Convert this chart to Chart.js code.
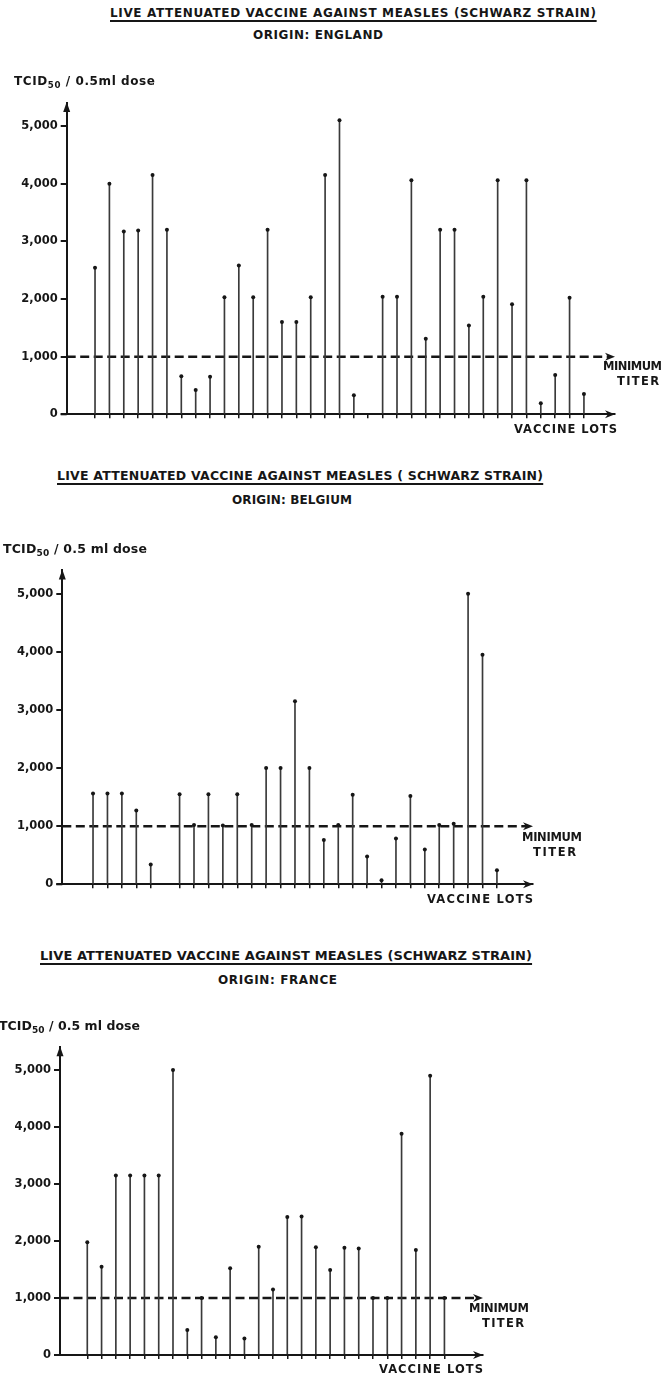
<!DOCTYPE html>
<html>
<head>
<meta charset="utf-8">
<script src="https://cdn.jsdelivr.net/npm/chart.js@4.4.1/dist/chart.umd.min.js"></script>
<style>
  body { margin: 0; background: #fff; width: 665px; height: 1377px; position: relative; overflow: hidden;
         font-family: 'DejaVu Sans', sans-serif; color: #161616; }
  canvas { position: absolute; left: 0; }
  .t { position: absolute; white-space: nowrap; font-weight: bold; line-height: 1; }
  .t sub { font-size: 0.72em; vertical-align: -0.3em; line-height: 0; }
  .u { text-decoration: underline; text-decoration-thickness: 1.5px; text-underline-offset: 2.5px; }
</style>
</head>
<body>
<script>
// 刻度
const yTicks = [0, 1000, 2000, 3000, 4000, 5000];
const yTickLabels = ['0', '1,000', '2,000', '3,000', '4,000', '5,000'];
const MIN_TITER = 1000;

// England: 35 lots (lot 20 not readable)
const englandLots = [1, 2, 3, 4, 5, 6, 7, 8, 9, 10, 11, 12, 13, 14, 15, 16, 17, 18, 19, 20,
  21, 22, 23, 24, 25, 26, 27, 28, 29, 30, 31, 32, 33, 34, 35];
const englandTiters = [2540, 4000, 3170, 3190, 4150, 3200, 660, 420, 650, 2030, 2580, 2030, 3200, 1600, 1600,
  2030, 4150, 5100, 330, null, 2040, 2040, 4060, 1310, 3200, 3200, 1540, 2040, 4060, 1910, 4060, 190, 680, 2020, 350];

// Belgium: gap after lot 5
const belgiumLots = [1, 2, 3, 4, 5, 7, 8, 9, 10, 11, 12, 13, 14, 15, 16, 17, 18, 19, 20,
  21, 22, 23, 24, 25, 26, 27, 28, 29];
const belgiumTiters = [1560, 1560, 1560, 1270, 340, 1550, 1020, 1550, 1010, 1550, 1020, 2000, 2000, 3150,
  2000, 760, 1020, 1540, 480, 70, 790, 1520, 600, 1020, 1040, 5000, 3950, 240];

// France: 26 lots
const franceLots = [1, 2, 3, 4, 5, 6, 7, 8, 9, 10, 11, 12, 13, 14, 15, 16, 17, 18, 19, 20,
  21, 22, 23, 24, 25, 26];
const franceTiters = [1980, 1550, 3150, 3150, 3150, 3150, 5000, 440, 1000, 310, 1520, 290, 1900, 1150, 2420,
  2430, 1890, 1490, 1880, 1870, 1000, 1000, 3880, 1840, 4900, 1000];

const TITLE = 'LIVE ATTENUATED VACCINE AGAINST MEASLES (SCHWARZ STRAIN)';
const TITLE_B = 'LIVE ATTENUATED VACCINE AGAINST MEASLES ( SCHWARZ STRAIN)';
const Y_LABEL = 'TCID<sub>50</sub> / 0.5ml dose';
const Y_LABEL_SP = 'TCID<sub>50</sub> / 0.5 ml dose';

const INK = '#161616';
const Y_MAX = 5400;

// 版面 (positions only)
const panels = [
  {
    lots: englandLots, titers: englandTiters, xMin: -0.97, xMax: 37.16,
    box: { left: 66.7, right: 615, top: 103, bottom: 414.3 },
    texts: [
      [TITLE, 110, 486, 13, 12, true],
      ['ORIGIN: ENGLAND', 253, 130, 35, 12],
      [Y_LABEL, 14, 141, 81, 12],
      ['MINIMUM', 603, 59, 367, 11.5],
      ['TITER', 617, 42, 382, 11.5],
      ['VACCINE LOTS', 514, 103, 430, 11.5],
    ]
  },
  {
    lots: belgiumLots, titers: belgiumTiters, xMin: -1.13, xMax: 31.5,
    box: { left: 62.3, right: 533, top: 570.4, bottom: 884.3 },
    texts: [
      [TITLE_B, 57, 486, 476, 12.5, true],
      ['ORIGIN: BELGIUM', 232, 120, 500, 12],
      [Y_LABEL_SP, 3, 144, 549, 12.5],
      ['MINIMUM', 522, 60, 838, 11.5],
      ['TITER', 533, 43, 853, 11.5],
      ['VACCINE LOTS', 427, 106, 900, 11.5],
    ]
  },
  {
    lots: franceLots, titers: franceTiters, xMin: -0.91, xMax: 28.7,
    box: { left: 60, right: 483, top: 1047.2, bottom: 1355 },
    texts: [
      [TITLE, 40, 492, 955, 13, true],
      ['ORIGIN: FRANCE', 218, 119, 980, 12],
      [Y_LABEL_SP, -1, 141, 1026, 12.5],
      ['MINIMUM', 469, 60, 1309, 11.5],
      ['TITER', 482, 42, 1324, 11.5],
      ['VACCINE LOTS', 379, 104, 1370, 11.5],
    ]
  }
];

function addText(html, x, w, cy, size, underline) {
  const el = document.createElement('div');
  el.className = 't' + (underline ? ' u' : '');
  el.innerHTML = html;
  el.style.fontSize = size + 'px';
  el.style.left = x + 'px';
  el.style.top = (cy - size * 0.48) + 'px';
  document.body.appendChild(el);
  const n = el.textContent.length;
  const natural = el.getBoundingClientRect().width;
  el.style.letterSpacing = ((w - natural) / (n - 1)) + 'px';
}

function arrowHead(ctx, x, y, dir) {
  ctx.beginPath();
  if (dir === 'up') {
    ctx.moveTo(x, y);
    ctx.lineTo(x - 3.5, y + 10);
    ctx.lineTo(x + 3.5, y + 10);
  } else {
    ctx.moveTo(x, y);
    ctx.lineTo(x - 10, y - 4);
    ctx.lineTo(x - 7, y);
    ctx.lineTo(x - 10, y + 4);
  }
  ctx.closePath();
  ctx.fill();
}

const axisArrows = {
  id: 'axisArrows',
  beforeDatasetsDraw(chart) {
    // minimum titer line
    const { ctx, chartArea: a, scales: { y } } = chart;
    const yy = y.getPixelForValue(MIN_TITER);
    ctx.save();
    ctx.strokeStyle = INK;
    ctx.lineWidth = 2.5;
    ctx.setLineDash([9, 4.5]);
    ctx.beginPath();
    ctx.moveTo(a.left, yy);
    ctx.lineTo(a.right - 7, yy);
    ctx.stroke();
    ctx.restore();
  },
  afterDraw(chart) {
    const { ctx, chartArea: a, scales: { y } } = chart;
    ctx.save();
    ctx.fillStyle = INK;
    ctx.strokeStyle = INK;
    arrowHead(ctx, a.left, a.top - 1, 'up');
    arrowHead(ctx, a.right, a.bottom, 'right');
    arrowHead(ctx, a.right, y.getPixelForValue(MIN_TITER), 'right');
    ctx.lineWidth = 2;
    ctx.beginPath();
    ctx.moveTo(a.left - 6, a.bottom);
    ctx.lineTo(a.left, a.bottom);
    ctx.stroke();
    ctx.restore();
  }
};

const tickFont = { family: 'DejaVu Sans', size: 11.5, weight: 'bold' };

function drawPanel(p) {
  const b = p.box;
  const T = Math.floor(b.top - 16);
  const H = Math.ceil(b.bottom + 14 - T);
  const canvas = document.createElement('canvas');
  canvas.width = 665;
  canvas.height = H;
  canvas.style.top = T + 'px';
  document.body.appendChild(canvas);

  const points = p.lots.map((lot, i) => ({ x: lot, y: p.titers[i] }));

  new Chart(canvas.getContext('2d'), {
    type: 'bar',
    data: {
      datasets: [
        { type: 'bar', data: points, backgroundColor: '#3a3a3a', borderWidth: 0, barThickness: 1, order: 2 },
        { type: 'scatter', data: points, pointRadius: 2, pointBackgroundColor: INK, pointBorderWidth: 0, order: 1 }
      ]
    },
    options: {
      responsive: false,
      animation: false,
      devicePixelRatio: 1,
      layout: { padding: { top: b.top - T, left: 0, right: 665 - b.right, bottom: 0 } },
      plugins: { legend: { display: false }, tooltip: { enabled: false } },
      scales: {
        x: {
          type: 'linear', min: p.xMin, max: p.xMax, offset: false,
          afterBuildTicks: s => { s.ticks = p.lots.map(v => ({ value: v })); },
          afterFit: s => { s.height = H - (b.bottom - T); },
          ticks: { display: false },
          grid: { offset: false, drawOnChartArea: false, drawTicks: true, tickLength: 4, lineWidth: 1.5, color: INK },
          border: { display: true, width: 2, color: INK }
        },
        y: {
          type: 'linear', min: 0, max: Y_MAX,
          afterBuildTicks: s => { s.ticks = yTicks.map(v => ({ value: v })); },
          afterFit: s => { s.width = b.left; },
          ticks: { font: tickFont, color: INK, padding: 3, callback: v => yTickLabels[yTicks.indexOf(v)] },
          grid: { drawOnChartArea: false, drawTicks: true, tickLength: 6, lineWidth: 2, color: INK },
          border: { display: true, width: 2, color: INK }
        }
      }
    },
    plugins: [axisArrows]
  });

  p.texts.forEach(t => addText(...t));
}

panels.forEach(drawPanel);
</script>
</body>
</html>
